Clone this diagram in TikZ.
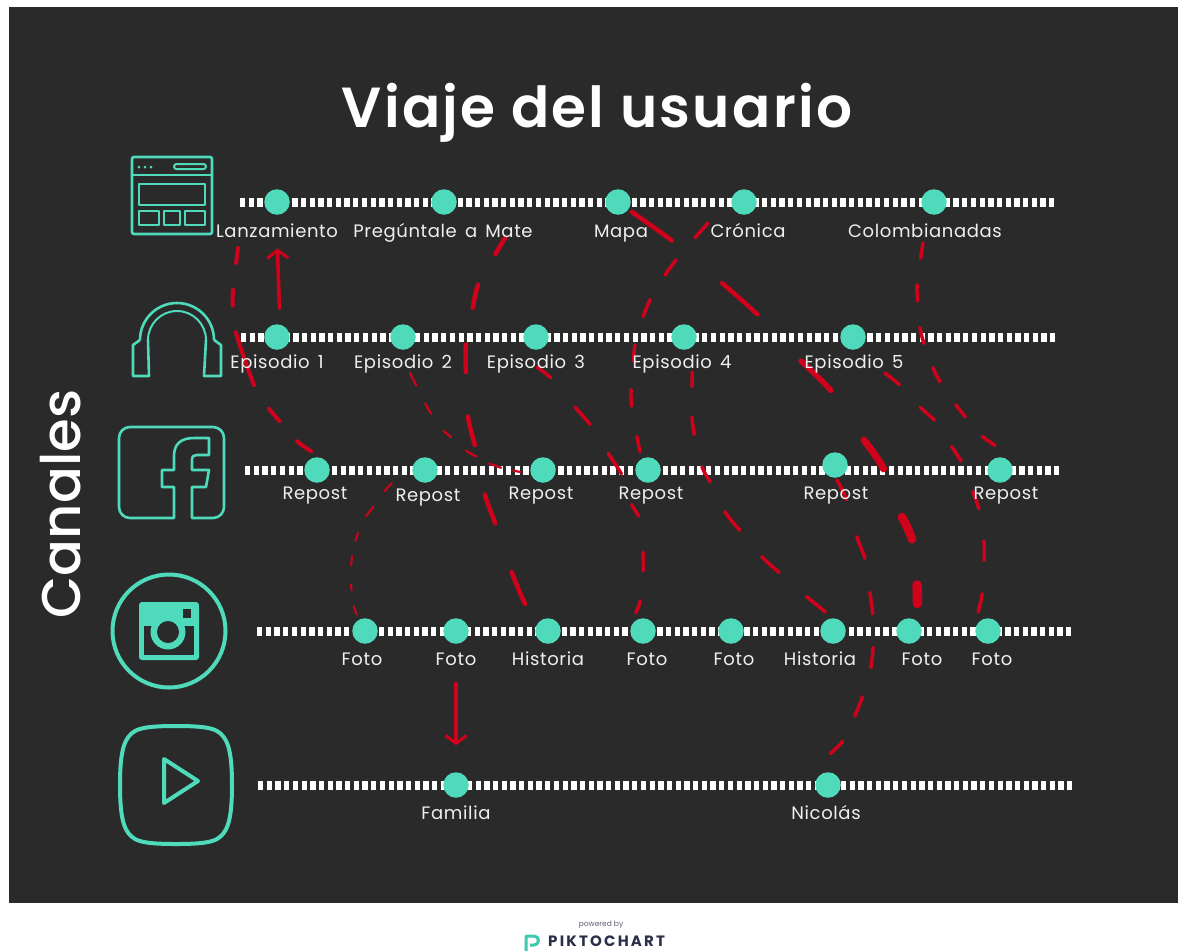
\documentclass[tikz,border=0pt]{standalone}
\usepackage{fontspec}
\setmainfont{Poppins}
\newfontfamily\titlefont[LetterSpace=4]{Poppins SemiBold}
\newfontfamily\sidefont{Poppins Medium}
\newfontfamily\labelfont[LetterSpace=3.5,WordSpace=1.5]{Poppins}
\newfontfamily\logofont[LetterSpace=14.7]{Poppins}
\usetikzlibrary{arrows.meta}
\definecolor{bgdark}{HTML}{2A2A2A}
\definecolor{mint}{HTML}{4FDBBB}
\definecolor{redline}{HTML}{D0021B}
\definecolor{labeltext}{HTML}{EFEFEF}
\definecolor{navy}{HTML}{2B2E48}
\pgfdeclarelayer{under}
\pgfdeclarelayer{links}
\pgfsetlayers{under,links,main}
\tikzset{
  dotrow/.style={draw=white,line width=9pt,dash pattern=on 5.3pt off 3.4pt},
  stop/.style={circle,fill=mint,minimum size=25.5pt,inner sep=0pt,outer sep=0pt},
  lbl/.style={text=labeltext,font=\labelfont\fontsize{18}{20}\selectfont,anchor=base,inner sep=0pt},
  icon/.style={draw=mint,line width=2.6pt,line join=round},
  iconb/.style={draw=mint,line width=4pt,line join=round},
  redc/.style={draw=redline,line cap=round},
  arrowc/.style={draw=redline,line width=3.6pt,line cap=round,-{Straight Barb[length=8pt,width=21pt,line width=3pt]}},
}
\newcommand{\redconn}[3]{\draw[redc,line width=#1pt,dash pattern=#2] plot[smooth,tension=0.5] coordinates {#3};}
\begin{document}
\begin{tikzpicture}[x=1pt,y=-1pt]
\useasboundingbox (0,0) rectangle (1178,951);
\begin{pgfonlayer}{under}
\fill[white] (0,0) rectangle (1178,951);
\fill[bgdark] (9,7) rectangle (1178,903);
\draw[dotrow] (240,202) -- (1055,202);
\draw[dotrow] (241,337) -- (1056,337);
\draw[dotrow] (245,470) -- (1059,470);
\draw[dotrow] (257,631) -- (1072,631);
\draw[dotrow] (258,785) -- (1073,785);
\end{pgfonlayer}

% title and side label
\node[text=white,font=\titlefont\fontsize{56.5}{64}\selectfont,anchor=base] (title) at (597,127) {Viaje del usuario};
\node[text=white,font=\sidefont\fontsize{54.5}{60}\selectfont,rotate=90,anchor=base] (canales) at (80,504) {Canales};

% stops
\foreach \n/\x in {a1/277,a2/444,a3/618,a4/744,a5/934}{\node[stop] (\n) at (\x,202) {};}
\foreach \n/\x in {b1/277,b2/403,b3/536,b4/684,b5/853}{\node[stop] (\n) at (\x,337) {};}
\foreach \n/\x in {c1/317,c2/425,c3/543,c4/648,c6/1000}{\node[stop] (\n) at (\x,470) {};}
\node[stop] (c5) at (835,465) {};
\foreach \n/\x in {d1/365,d2/456,d3/548,d4/643,d5/731,d6/833,d7/909,d8/988}{\node[stop] (\n) at (\x,631) {};}
\foreach \n/\x in {e1/456,e2/828}{\node[stop] (\n) at (\x,785) {};}

% labels
\node[lbl] (la1) at (277,237) {Lanzamiento};
\node[lbl] (la2) at (443,237) {Pregúntale a Mate};
\node[lbl] (la3) at (621,237) {Mapa};
\node[lbl] (la4) at (748,237) {Crónica};
\node[lbl] (la5) at (925,237) {Colombianadas};
\node[lbl] (lb1) at (277,368) {Episodio 1};
\node[lbl] (lb2) at (403,368) {Episodio 2};
\node[lbl] (lb3) at (536,368) {Episodio 3};
\node[lbl] (lb4) at (682,368) {Episodio 4};
\node[lbl] (lb5) at (854,368) {Episodio 5};
\node[lbl] (lc1) at (315,499) {Repost};
\node[lbl] (lc2) at (428,501) {Repost};
\node[lbl] (lc3) at (541,499) {Repost};
\node[lbl] (lc4) at (651,499) {Repost};
\node[lbl] (lc5) at (836,499) {Repost};
\node[lbl] (lc6) at (1006,499) {Repost};
\node[lbl] (ld1) at (362,665) {Foto};
\node[lbl] (ld2) at (456,665) {Foto};
\node[lbl] (ld3) at (548,665) {Historia};
\node[lbl] (ld4) at (647,665) {Foto};
\node[lbl] (ld5) at (734,665) {Foto};
\node[lbl] (ld6) at (820,665) {Historia};
\node[lbl] (ld7) at (922,665) {Foto};
\node[lbl] (ld8) at (992,665) {Foto};
\node[lbl] (le1) at (456,819) {Familia};
\node[lbl] (le2) at (826,819) {Nicolás};

% connector starts
\coordinate (sA) at (238,248);
\coordinate (sB) at (505,238);
\coordinate (sC) at (410,373);
\coordinate (sD) at (392,483);
\coordinate (sE) at (537,367);
\coordinate (sF) at (708,223);
\coordinate (sG) at (692,372);
\coordinate (sH) at (632,212);
\coordinate (wH1) at (801,361);
\coordinate (wH2) at (864,440);
\coordinate (wH3) at (902,517);
\coordinate (wH4) at (917,585);
\coordinate (sI) at (885,373);
\coordinate (sJ) at (923,243);
\coordinate (sK) at (837,480);

\begin{pgfonlayer}{links}
\redconn{4}{on 15pt off 27pt on 16pt off 27pt on 56pt off 28pt on 16pt off 27pt on 17pt off 999pt}{(sA) (233,290) (233,310) (236,333) (256,390) (270,410) (283,425) (298,442) (315,455) (c1)}
\redconn{4.5}{on 18.5pt off 35.5pt on 23.5pt off 37.5pt on 27.5pt off 44.5pt on 29.5pt off 50.5pt on 30.5pt off 51.5pt on 34.5pt off 999pt}{(sB) (493,258) (478,285) (472,312) (466,345) (466,377) (468,417) (476,450) (485,495) (497,528) (512,573) (528,609) (d3)}
\redconn{2.2}{on 13.8pt off 20.2pt on 11.8pt off 21.2pt on 9.8pt off 20.2pt on 11.8pt off 14.7pt on 12.8pt off 12.2pt on 7.8pt off 999pt}{(sC) (417,387) (425,403) (432,415) (443,430) (452,438) (465,450) (477,457) (488,463) (502,468) (512,470) (522,472) (c3)}
\redconn{2}{on 11pt off 19pt on 12pt off 19pt on 8pt off 16pt on 9pt off 19pt on 6pt off 16pt on 9pt off 999pt}{(sD) (383,493) (373,507) (365,518) (358,533) (355,543) (352,557) (351,568) (351,585) (352,593) (354,607) (358,617) (d1)}
\redconn{3.5}{on 17.5pt off 38.5pt on 22.5pt off 34pt on 24.5pt off 32.5pt on 13.5pt off 36.5pt on 18.5pt off 30.5pt on 12.5pt off 999pt}{(sE) (553,380) (575,407) (592,427) (608,453) (623,477) (632,505) (640,520) (643,553) (643,575) (640,602) (635,617) (d4)}
\redconn{3.5}{on 19.5pt off 29.5pt on 18.5pt off 29pt on 18pt off 29.5pt on 16.5pt off 28.5pt on 16.5pt off 31pt on 15pt off 999pt}{(sF) (693,240) (676,260) (663,278) (650,300) (642,320) (635,345) (633,365) (631,390) (632,410) (637,437) (641,455) (c4)}
\redconn{3.5}{on 14.5pt off 30.5pt on 17.5pt off 33.5pt on 17pt off 33.5pt on 23.5pt off 34.5pt on 23.5pt off 36.5pt on 24.5pt off 999pt}{(sG) (692,390) (692,417) (695,438) (702,467) (712,485) (725,512) (742,533) (762,557) (782,575) (807,597) (828,615) (d6)}
\redconn{4.5}{on 49pt off 66pt on 47pt off 999pt}{(sH) (675,243) (722,283) (760,317) (wH1)}
\redconn{5.5}{on 42pt off 999pt}{(wH1) (833,393) (wH2)}
\redconn{7}{on 35pt off 999pt}{(wH2) (875,455) (885,472) (wH3)}
\redconn{8.5}{on 24.5pt off 999pt}{(wH3) (913,543) (wH4)}
\redconn{9.5}{on 18.5pt off 999pt}{(wH4) (917,608) (d7)}
\redconn{3.5}{on 18.5pt off 30.5pt on 19.5pt off 31.5pt on 17.5pt off 32.5pt on 18.5pt off 32.5pt on 19.5pt off 33.5pt on 18.5pt off 999pt}{(sI) (902,387) (920,407) (937,423) (952,447) (963,465) (973,492) (980,513) (984,542) (984,565) (982,595) (978,617) (d8)}
\redconn{3.5}{on 15.5pt off 26.5pt on 16.5pt off 26.5pt on 16.5pt off 26pt on 15.5pt off 28pt on 15.5pt off 26pt on 15.5pt off 999pt}{(sJ) (920,262) (917,285) (918,305) (920,328) (925,347) (933,368) (942,385) (956,405) (968,420) (983,437) (998,449) (c6)}
\redconn{3.5}{on 22pt off 38.5pt on 23pt off 34.5pt on 21.5pt off 33.5pt on 20.5pt off 30.5pt on 20.5pt off 28pt on 17.5pt off 999pt}{(sK) (848,503) (857,537) (866,562) (870,593) (873,618) (873,648) (870,672) (862,698) (853,720) (842,742) (828,758) (e2)}
\draw[arrowc,shorten <=16pt,shorten >=11pt] ([xshift=3pt]b1.north) -- (la1.south);
\draw[arrowc,shorten <=18pt,shorten >=27pt] (ld2.south) -- (e1.north);
\end{pgfonlayer}

% browser icon
\draw[icon,rounded corners=2pt] (132,157) rectangle (212,234);
\draw[icon] (132,175) -- (212,175);
\fill[mint] (139,167) circle (1.5pt) (145,167) circle (1.5pt) (151,167) circle (1.5pt);
\draw[icon,line width=2pt,rounded corners=2.5pt] (174,164) rectangle (206,169);
\draw[icon] (139,184) rectangle (205,205);
\draw[icon] (139,211) rectangle (159,225);
\draw[icon] (164,211) rectangle (180,225);
\draw[icon] (185,211) rectangle (205,225);

% headphones icon
\draw[icon] (140,340) arc[start angle=180,end angle=0,radius=37pt];
\draw[icon,line width=2pt] (148,340) arc[start angle=180,end angle=0,radius=29pt];
\draw[icon] (140,340) -- (133,345) -- (133,376) -- (149,376) -- (148,340);
\draw[icon] (214,340) -- (221,345) -- (221,376) -- (204,376) -- (206,340);

% facebook icon
\draw[icon] (174,518) -- (130,518) arc[start angle=270,end angle=180,radius=11pt]
  -- (119,438) arc[start angle=180,end angle=90,radius=11pt]
  -- (213,427) arc[start angle=90,end angle=0,radius=11pt]
  -- (224,507) arc[start angle=0,end angle=-90,radius=11pt] -- (192,518)
  -- (192,487) -- (206,487) -- (209,470) -- (192,470) -- (192,460)
  .. controls (192,456) and (194,455) .. (197,455) -- (209,455) -- (209,438) -- (194,438)
  .. controls (181,438) and (174,444) .. (174,456) -- (174,470) -- (162,470) -- (162,487)
  -- (174,487) -- cycle;

% instagram icon
\draw[iconb] (169,631) circle (56.5pt);
\fill[mint,rounded corners=3pt] (139,602) rectangle (199,660);
\fill[bgdark] (144,626) rectangle (194,655);
\fill[mint] (168,632) circle (17.5pt);
\fill[bgdark] (168,632) circle (11pt);
\fill[bgdark] (183,609) rectangle (191,618);

% video icon
\draw[iconb] (176,726) .. controls (196,726) and (210,727) .. (217,731)
  .. controls (227,737) and (232,748) .. (232,785)
  .. controls (232,822) and (227,833) .. (217,839)
  .. controls (210,843) and (196,844) .. (176,844)
  .. controls (156,844) and (142,843) .. (135,839)
  .. controls (125,833) and (120,822) .. (120,785)
  .. controls (120,748) and (125,737) .. (135,731)
  .. controls (142,727) and (156,726) .. (176,726) -- cycle;
\draw[iconb] (164,759) -- (198,781) -- (164,803) -- cycle;

% footer
\node[text=navy!75,font=\fontsize{7.5}{8}\selectfont,inner sep=0pt] (powered) at (601,925) {powered by};
\node[text=navy,font=\logofont\fontsize{15}{15}\selectfont\bfseries,anchor=base west,inner sep=0pt] (pikto) at (548,946.5) {PIKTOCHART\kern3pt};
\draw[draw=mint!80!teal,line width=3pt,line join=round] (526,951) -- (526,936) -- (534,936) arc[start angle=90,end angle=-90,radius=4.5pt] -- (530,945);
\end{tikzpicture}
\end{document}
